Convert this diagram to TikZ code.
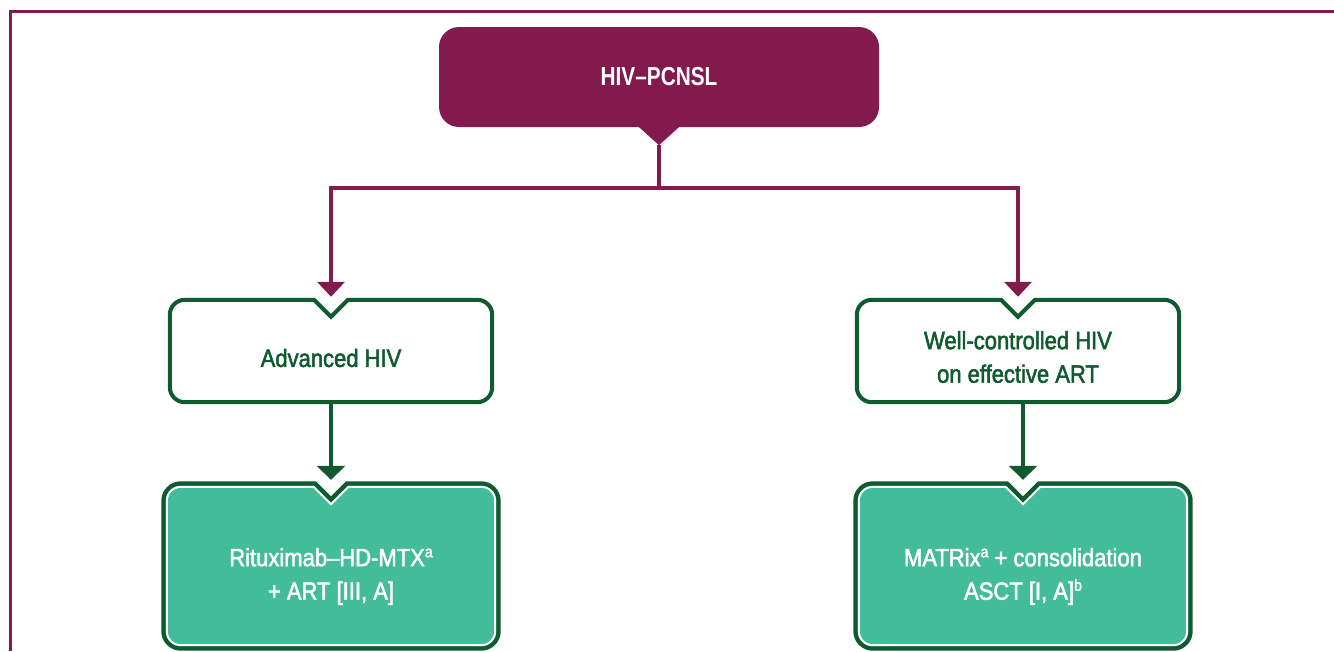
\documentclass[tikz,border=0pt]{standalone}
\usepackage{fontspec}
\setmainfont{Liberation Sans}[FakeStretch=0.88,FakeBold=2]
\newfontfamily\topfont{Liberation Sans}[FakeStretch=0.8]
\usetikzlibrary{arrows.meta,calc}
\definecolor{mag}{HTML}{821A4E}
\definecolor{dgreen}{HTML}{0F5A2E}
\definecolor{tealf}{HTML}{43BC9A}
\newcommand\supa[1]{\raisebox{9pt}{\fontsize{16}{16}\selectfont #1}}
% notched rounded box path around node #1, options #2
\newcommand\nbox[2]{\path[#2]
  ($(#1.north)+(-17,0)$) -- ($(#1.north)+(0,17)$) -- ($(#1.north)+(17,0)$)
  -- ($(#1.north east)+(-15,0)$) arc[start angle=90,end angle=0,radius=15pt]
  -- ($(#1.south east)+(0,-15)$) arc[start angle=0,end angle=-90,radius=15pt]
  -- ($(#1.south west)+(15,0)$) arc[start angle=-90,end angle=-180,radius=15pt]
  -- ($(#1.north west)+(0,15)$) arc[start angle=180,end angle=90,radius=15pt]
  -- cycle;}
\begin{document}
\begin{tikzpicture}[x=1pt,y=-1pt,
  boxshape/.style={rectangle, inner sep=0pt, draw=none},
  txt/.style={font=\fontsize{25}{33.5}\selectfont, align=center, inner sep=0pt},
  magline/.style={draw=mag, line width=4pt},
  magarrow/.style={magline, -{Triangle[width=27pt,length=15pt]}, shorten >=3pt},
  grnarrow/.style={draw=dgreen, line width=4pt, -{Triangle[width=28pt,length=14pt]}, shorten >=6pt},
]
\useasboundingbox (0,0) rectangle (1334,651);
% frame
\draw[mag, line width=3pt] (10,651) -- (10,11) -- (1334,11);

% top box
\node[boxshape, minimum width=440pt, minimum height=100pt, fill=mag, rounded corners=20pt,
      text=white, font=\topfont\bfseries\fontsize{26}{30}\selectfont] (top) at (659,77) {HIV–PCNSL};
\coordinate (tip) at ($(top.south)+(0,18)$);
\fill[mag] ($(top.south)+(-21,-1)$) -- (tip) -- ($(top.south)+(21,-1)$) -- cycle;

% box frames
\node[boxshape, minimum width=322pt, minimum height=102pt] (adv) at (331,351) {};
\node[boxshape, minimum width=322pt, minimum height=102pt] (well) at (1018,351) {};
\node[boxshape, minimum width=330pt, minimum height=160pt] (bl) at (331,566) {};
\node[boxshape, minimum width=330pt, minimum height=160pt] (br) at (1023,566) {};

\nbox{adv}{draw=dgreen, line width=4pt, fill=white}
\nbox{well}{draw=dgreen, line width=4pt, fill=white}

\nbox{bl}{draw=dgreen, line width=9pt}
\nbox{bl}{fill=tealf}
\begin{scope}
  \nbox{bl}{clip}
  \nbox{bl}{draw=white, line width=4pt}
\end{scope}
\nbox{br}{draw=dgreen, line width=9pt}
\nbox{br}{fill=tealf}
\begin{scope}
  \nbox{br}{clip}
  \nbox{br}{draw=white, line width=4pt}
\end{scope}

% connectors
\coordinate (j) at ($(tip)+(0,43)$);
\draw[magline] (tip) -- (j);
\draw[magarrow] (j) -| (adv.north);
\draw[magarrow] (j) -| (well.north);
\draw[grnarrow] (adv.south) -- (bl.north);
\draw[grnarrow] (well.south -| br.north) -- (br.north);

% texts
\node[txt, text=dgreen] (advt) at (331,358) {Advanced HIV};
\node[txt, text=dgreen] (wellt) at (1018,357) {Well-controlled HIV\\on effective ART};
\node[txt, text=white] (blt) at (331,576.5) {Rituximab–HD-MTX\supa{a}\\+ ART [III, A]};
\node[txt, text=white] (brt) at (1023,576.5) {MATRix\supa{a} + consolidation\\ASCT [I, A]\supa{b}};
\end{tikzpicture}
\end{document}
